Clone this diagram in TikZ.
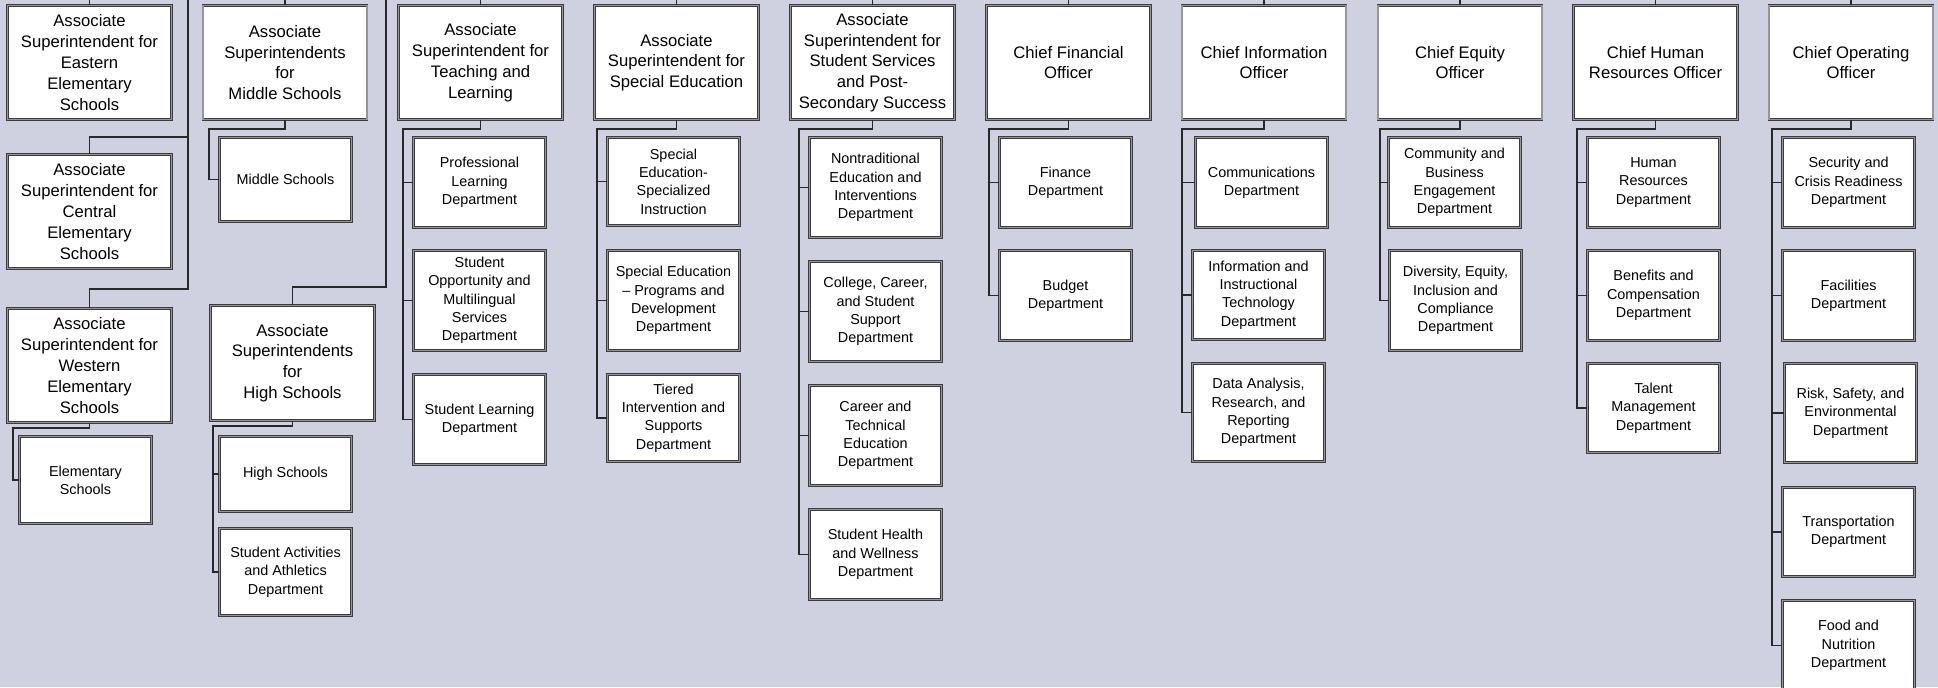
\documentclass[tikz,border=0pt]{standalone}
\usepackage{fontspec}
\setmainfont{Liberation Sans}

\tikzset{every picture/.style={line width=0.75pt}}
\tikzset{
  orgbox/.style={draw={rgb, 255:red, 60; green, 60; blue, 60 }, double={rgb, 255:red, 150; green, 150; blue, 150 }, double distance=0.9pt, line width=0.6pt, fill=white, align=center, inner sep=1.5pt},
  topbox/.style={orgbox, minimum width=123pt, minimum height=85.5pt, font=\fontsize{12.5}{15.6}\selectfont},
  deptbox/.style={orgbox, minimum width=99pt, font=\fontsize{10.8}{13.7}\selectfont},
  link/.style={draw={rgb, 255:red, 40; green, 40; blue, 40 }, line width=0.9pt},
}

\begin{document}
\begin{tikzpicture}[x=0.75pt,y=0.75pt,yscale=-1,xscale=1]
\useasboundingbox (0,0) rectangle (1938,687);
\clip (0,0) rectangle (1938,687);
\fill [fill={rgb, 255:red, 207; green, 208; blue, 224 }] (0,0) rectangle (1938,687);

%Shape: top row
\node [topbox] (east) at (89.5,62.5) {Associate\\Superintendent for\\Eastern\\Elementary\\Schools};
\node [topbox] (mid) at (285,62.5) {Associate\\Superintendents\\for\\Middle Schools};
\node [topbox] (teach) at (480.5,62.5) {Associate\\Superintendent for\\Teaching and\\Learning};
\node [topbox] (sped) at (676.5,62.5) {Associate\\Superintendent for\\Special Education};
\node [topbox] (stsv) at (872.5,62.5) {Associate\\Superintendent for\\Student Services\\and Post-\\Secondary Success};
\node [topbox] (cfo) at (1068.5,62.5) {Chief Financial\\Officer};
\node [topbox] (cio) at (1264,62.5) {Chief Information\\Officer};
\node [topbox] (equity) at (1460,62.5) {Chief Equity\\Officer};
\node [topbox] (chro) at (1655.5,62.5) {Chief Human\\Resources Officer};
\node [topbox] (coo) at (1851,62.5) {Chief Operating\\Officer};

%Shape: second level supers
\node [topbox] (central) at (89.5,211.5) {Associate\\Superintendent for\\Central\\Elementary\\Schools};
\node [topbox] (western) at (89.5,365.5) {Associate\\Superintendent for\\Western\\Elementary\\Schools};
\node [topbox, minimum height=86.25pt] (hsup) at (292.5,363) {Associate\\Superintendents\\for\\High Schools};

%Shape: schools
\node [deptbox, minimum height=65.25pt] (elem) at (85.5,480) {Elementary\\Schools};
\node [deptbox, minimum height=63pt] (msch) at (285.5,179.5) {Middle Schools};
\node [deptbox, minimum height=56.25pt] (hsch) at (285.5,474) {High Schools};
\node [deptbox, minimum height=65.25pt] (sact) at (285.5,572) {Student Activities\\and Athletics\\Department};

%Shape: teaching and learning
\node [deptbox, minimum height=67.5pt] (profl) at (479.5,182.5) {Professional\\Learning\\Department};
\node [deptbox, minimum height=75pt] (stopp) at (479.5,300.5) {Student\\Opportunity and\\Multilingual\\Services\\Department};
\node [deptbox, minimum height=67.5pt] (stlrn) at (479.5,419.5) {Student Learning\\Department};

%Shape: special education
\node [deptbox, minimum height=66pt] (spedsi) at (673.5,181.5) {Special\\Education-\\Specialized\\Instruction};
\node [deptbox, minimum height=75pt] (spedpd) at (673.5,300.5) {Special Education\\– Programs and\\Development\\Department};
\node [deptbox, minimum height=65.25pt] (tiered) at (673.5,418) {Tiered\\Intervention and\\Supports\\Department};

%Shape: student services
\node [deptbox, minimum height=75pt] (nontr) at (875.5,187.5) {Nontraditional\\Education and\\Interventions\\Department};
\node [deptbox, minimum height=75pt] (ccss) at (875.5,311.5) {College, Career,\\and Student\\Support\\Department};
\node [deptbox, minimum height=75pt] (cte) at (875.5,435.5) {Career and\\Technical\\Education\\Department};
\node [deptbox, minimum height=67.5pt] (shw) at (875.5,554.5) {Student Health\\and Wellness\\Department};

%Shape: finance
\node [deptbox, minimum height=67.5pt] (fin) at (1065.5,182.5) {Finance\\Department};
\node [deptbox, minimum height=67.5pt] (bud) at (1065.5,295.5) {Budget\\Department};

%Shape: information
\node [deptbox, minimum height=67.5pt] (comm) at (1261.5,182.5) {Communications\\Department};
\node [deptbox, minimum height=66.75pt] (iit) at (1258.5,295) {Information and\\Instructional\\Technology\\Department};
\node [deptbox, minimum height=73.5pt] (data) at (1258.5,412.5) {Data Analysis,\\Research, and\\Reporting\\Department};

%Shape: equity
\node [deptbox, minimum height=67.5pt] (cbe) at (1454.5,182.5) {Community and\\Business\\Engagement\\Department};
\node [deptbox, minimum height=75pt] (deic) at (1455.5,300.5) {Diversity, Equity,\\Inclusion and\\Compliance\\Department};

%Shape: human resources
\node [deptbox, minimum height=67.5pt] (hr) at (1653.5,182.5) {Human\\Resources\\Department};
\node [deptbox, minimum height=67.5pt] (ben) at (1653.5,295.5) {Benefits and\\Compensation\\Department};
\node [deptbox, minimum height=66.75pt] (tal) at (1653.5,408) {Talent\\Management\\Department};

%Shape: operations
\node [deptbox, minimum height=67.5pt] (sec) at (1848.5,182.5) {Security and\\Crisis Readiness\\Department};
\node [deptbox, minimum height=67.5pt] (fac) at (1848.5,295.5) {Facilities\\Department};
\node [deptbox, minimum height=74.25pt] (risk) at (1850.5,413) {Risk, Safety, and\\Environmental\\Department};
\node [deptbox, minimum height=66.75pt] (trans) at (1848.5,532) {Transportation\\Department};
\node [deptbox, minimum height=67.5pt] (food) at (1848.5,645.5) {Food and\\Nutrition\\Department};

%Straight Lines: bends
\coordinate (top) at (0,0);
\coordinate (lspine) at (188,0);
\coordinate (ljoin) at (188,137);
\coordinate (ljoinb) at (188,289);
\coordinate (rspine) at (386,0);
\coordinate (rjoin) at (386,287);
\coordinate (elembus) at (13,428);
\coordinate (midbus) at (209,129);
\coordinate (hsbus) at (213,426);
\coordinate (teachbus) at (403,129);
\coordinate (spedbus) at (597,129);
\coordinate (stsvbus) at (799,129);
\coordinate (cfobus) at (989,129);
\coordinate (ciobus) at (1182,129);
\coordinate (equitybus) at (1380,129);
\coordinate (chrobus) at (1577,129);
\coordinate (coobus) at (1772,129);

%Straight Lines: from above
\foreach \n in {east,mid,teach,sped,stsv,cfo,cio,equity,chro,coo}
  \draw [link] (\n.north) -- (\n.north |- top);
\draw [link] (lspine) -- (ljoin) -| (central.north);
\draw [link] (ljoin) -- (ljoinb) -| (western.north);
\draw [link] (rspine) -- (rjoin) -| (hsup.north);

%Straight Lines: to departments
\draw [link] (western.south) |- (elembus) |- (elem.west);
\draw [link] (mid.south) |- (midbus) |- (msch.west);
\draw [link] (hsup.south) |- (hsbus) |- (sact.west);
\draw [link] (hsbus) |- (hsch.west);
\draw [link] (teach.south) |- (teachbus) |- (stlrn.west);
\foreach \c in {profl,stopp} \draw [link] (teachbus) |- (\c.west);
\draw [link] (sped.south) |- (spedbus) |- (tiered.west);
\foreach \c in {spedsi,spedpd} \draw [link] (spedbus) |- (\c.west);
\draw [link] (stsv.south) |- (stsvbus) |- (shw.west);
\foreach \c in {nontr,ccss,cte} \draw [link] (stsvbus) |- (\c.west);
\draw [link] (cfo.south) |- (cfobus) |- (bud.west);
\draw [link] (cfobus) |- (fin.west);
\draw [link] (cio.south) |- (ciobus) |- (data.west);
\foreach \c in {comm,iit} \draw [link] (ciobus) |- (\c.west);
\draw [link] (equity.south) |- (equitybus) |- (deic.west);
\draw [link] (equitybus) |- (cbe.west);
\draw [link] (chro.south) |- (chrobus) |- (tal.west);
\foreach \c in {hr,ben} \draw [link] (chrobus) |- (\c.west);
\draw [link] (coo.south) |- (coobus) |- (food.west);
\foreach \c in {sec,fac,risk,trans} \draw [link] (coobus) |- (\c.west);
\end{tikzpicture}
\end{document}
